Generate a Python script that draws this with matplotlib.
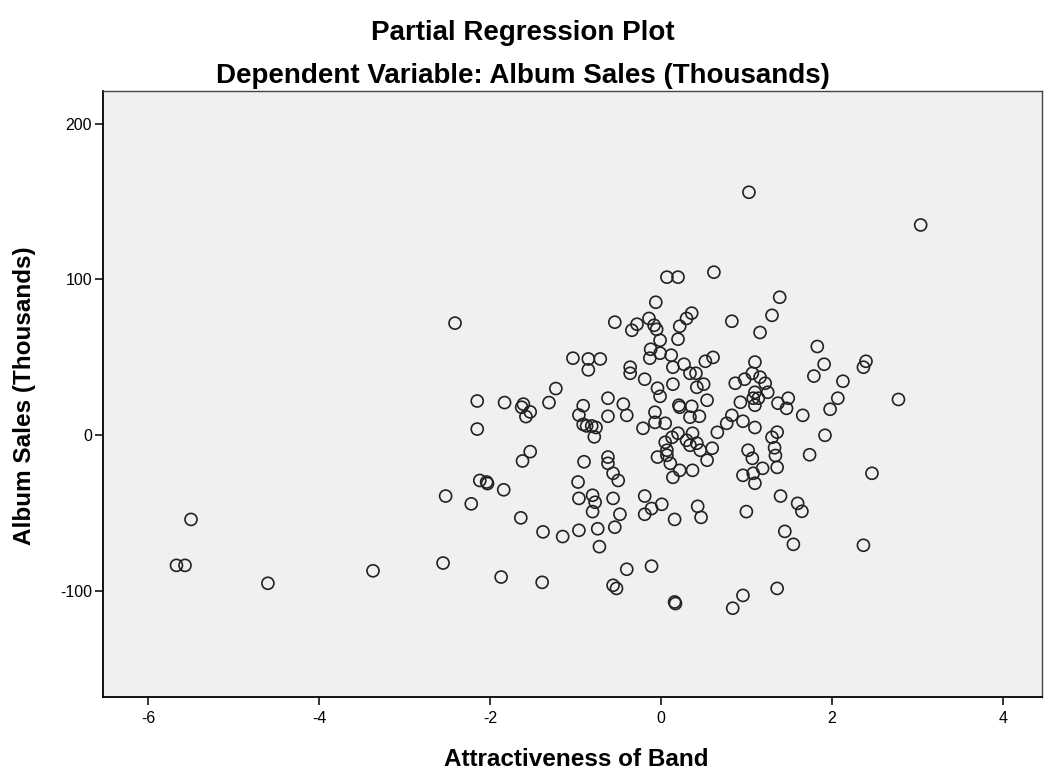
import matplotlib
matplotlib.use("Agg")
import matplotlib.pyplot as plt

plt.rcParams['font.family'] = ['Liberation Sans', 'DejaVu Sans']
plt.rcParams['axes.unicode_minus'] = False

title = "Partial Regression Plot"
subtitle = "Dependent Variable: Album Sales (Thousands)"
xlabel = "Attractiveness of Band"
ylabel = "Album Sales (Thousands)"
xticks = [-6, -4, -2, 0, 2, 4]
yticks = [-100, 0, 100, 200]

attract = [
    -5.67, -5.57, -5.50, -4.60, -3.37, -2.41, -2.52, -2.55, -2.22, -2.15,
    -2.15, -1.83, -1.63, -1.61, -1.58, -1.53, -1.31, -1.23, -1.03, -0.85,
    -0.85, -0.71, -0.91, -0.96, -0.87, -0.81, -0.76, -0.78, -0.91, -1.53,
    -1.62, -0.90, -2.12, -2.04, -2.03, -1.84, -1.64, -1.38, -1.15, -0.96,
    -0.97, -0.96, -0.80, -0.80, -0.74, -0.72, -1.87, -1.39, 0.07, 0.20,
    0.62, -0.06, -0.54, -0.34, -0.28, -0.14, -0.08, -0.05, 0.22, 0.30,
    0.36, 0.20, -0.01, -0.12, -0.01, 0.12, -0.13, 0.83, 1.16, 1.30,
    1.39, -0.36, -0.36, -0.19, 0.14, 0.27, 0.34, 0.41, 0.52, 0.61,
    0.14, -0.04, -0.01, 0.42, 0.50, 0.54, 0.21, 0.22, 0.36, 0.34,
    0.45, -0.07, -0.07, 0.05, -0.21, -0.44, -0.40, -0.62, -0.62, 0.87,
    0.98, 1.07, 1.10, 1.16, 1.22, 1.25, 1.10, 1.08, 1.14, 1.10,
    0.93, 1.37, 0.83, 0.96, 1.10, 0.66, 0.77, 1.30, 1.36, 0.05,
    0.07, 0.13, 0.20, 0.30, 0.37, 0.34, 0.42, 0.46, 0.60, 1.02,
    -0.04, 0.07, 1.07, 1.83, 1.91, 1.79, 2.13, 2.40, 2.37, 2.78,
    2.07, 1.98, 1.66, 1.49, 1.47, 1.92, 1.33, 1.34, 1.74, -0.62,
    -0.62, -0.56, -0.50, -0.77, -0.56, -0.48, -0.54, -0.19, -0.11, -0.19,
    0.01, 0.16, 0.43, 0.47, 1.00, 0.11, 0.22, 0.14, 0.37, 0.54,
    1.19, 0.96, 1.08, 1.10, 1.36, -0.40, -0.11, -0.56, -0.52, 0.16,
    0.17, 0.96, 0.84, 1.36, 1.40, 1.60, 1.65, 1.45, 1.55, 2.47,
    2.37, 1.03, 3.04,
]

sales = [
    -83.5, -83.5, -54.0, -95.0, -87.0, 72.0, -39.0, -82.0, -44.0, 4.0,
    22.0, 21.0, 18.0, 20.0, 12.0, 15.0, 21.0, 30.0, 49.5, 49.0,
    42.0, 49.0, 19.0, 13.0, 6.0, 6.0, 5.0, -1.0, 7.0, -10.5,
    -16.5, -17.0, -29.0, -30.0, -31.0, -35.0, -53.0, -62.0, -65.0, -61.0,
    -30.0, -40.5, -38.5, -49.0, -60.0, -71.5, -91.0, -94.4, 101.5, 101.5,
    104.7, 85.4, 72.6, 67.4, 71.3, 75.0, 70.6, 68.0, 70.0, 75.0,
    78.4, 61.7, 61.0, 55.2, 52.7, 51.4, 49.5, 73.2, 66.0, 77.0,
    88.6, 43.7, 39.8, 36.0, 43.7, 45.6, 39.8, 39.8, 47.5, 50.0,
    32.8, 30.2, 25.0, 30.8, 32.8, 22.5, 19.3, 18.0, 18.6, 11.6,
    12.2, 14.8, 8.3, 7.7, 4.5, 20.0, 12.8, 23.8, 12.2, 33.4,
    36.0, 39.8, 47.0, 37.3, 33.4, 27.6, 27.6, 23.8, 23.8, 19.3,
    21.2, 20.6, 12.8, 9.0, 5.0, 1.9, 7.7, -1.3, 2.0, -4.5,
    -9.6, -1.3, 1.3, -3.2, 1.3, -6.4, -5.1, -9.6, -8.3, -9.6,
    -14.0, -12.8, -14.8, 57.0, 45.6, 38.0, 34.7, 47.5, 43.7, 23.0,
    23.8, 16.7, 12.8, 23.8, 17.3, 0.0, -8.0, -13.0, -12.5, -14.0,
    -18.0, -24.4, -29.0, -43.0, -40.5, -50.7, -59.0, -39.0, -47.0, -50.7,
    -44.3, -54.0, -45.6, -52.7, -49.0, -18.0, -22.5, -27.0, -22.5, -16.0,
    -21.2, -25.7, -24.4, -30.8, -20.6, -86.0, -84.0, -96.3, -98.3, -107.0,
    -108.0, -102.8, -111.0, -98.3, -39.0, -43.7, -48.8, -61.7, -70.0, -24.4,
    -70.6, 156.0, 135.0,
]

W, H = 1049, 774
fig = plt.figure(figsize=(W / 100, H / 100), dpi=100)
fig.patch.set_facecolor('white')
ax = fig.add_axes([103 / W, 1 - 697 / H, (1042 - 103) / W, (697 - 91) / H])
ax.set_facecolor('#f0f0f0')

ax.scatter(attract, sales, s=75, facecolors='none', edgecolors='#222222', linewidths=1.2)

ax.set_xlim(-6.53, 4.46)
ax.set_ylim(-168, 221)
ax.set_xticks(xticks)
ax.set_yticks(yticks)
ax.tick_params(axis='both', direction='out', length=6, width=1.1, labelsize=11.5,
               colors='black', pad=2)
ax.tick_params(axis='x', pad=4)
for side in ['top', 'right']:
    ax.spines[side].set_color('#444444')
    ax.spines[side].set_linewidth(1.0)
for side in ['left', 'bottom']:
    ax.spines[side].set_color('black')
    ax.spines[side].set_linewidth(1.3)

fig.text(523 / W, 1 - 40 / H, title, ha='center', va='baseline', fontsize=20, fontweight='bold')
fig.text(523 / W, 1 - 83 / H, subtitle, ha='center', va='baseline', fontsize=20, fontweight='bold')
fig.text(576 / W, 1 - 766 / H, xlabel, ha='center', va='baseline', fontsize=17.5, fontweight='bold')
fig.text(25 / W, 1 - 396 / H, ylabel, ha='center', va='center', rotation=90,
         fontsize=17.5, fontweight='bold')

fig.savefig('out.png', dpi=100)
